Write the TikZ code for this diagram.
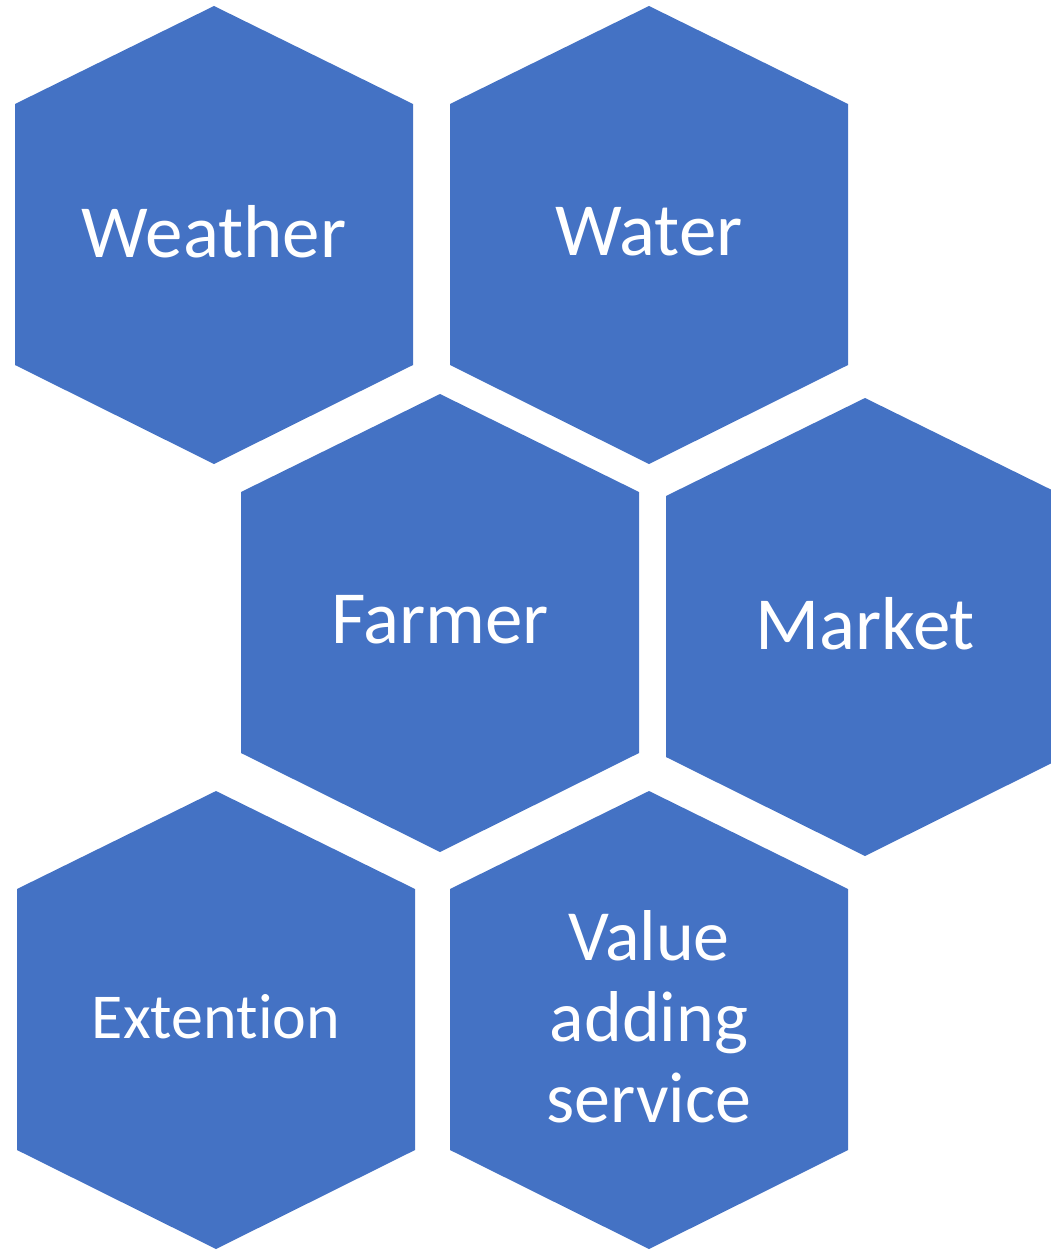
\documentclass[tikz,border=0pt]{standalone}
\usepackage{fontspec}
\setmainfont{Carlito}[Ligatures=NoCommon]
\definecolor{hexblue}{HTML}{4472C4}
\tikzset{
  hexcell/.style={fill=hexblue, draw=none},
  hexlabel/.style={text=white, align=center, inner sep=0pt,
    font=\fontsize{#1}{40.5}\selectfont},
  hexlabel/.default=37.5
}
\begin{document}
\begin{tikzpicture}[x=0.5pt,y=-0.5pt]
  \useasboundingbox (0,0) rectangle (1050,1252);
  \foreach \cx/\cy/\id/\sz/\txt in {
      214/235/weather/37.5/Weather,
      649/235/water/37.5/Water,
      440/623/farmer/37.5/Farmer,
      865/627/market/37.5/Market,
      216/1020/extention/32/Extention,
      649/1020/value/36/{Value\\adding\\service}} {
    \fill[hexcell] (\cx,\cy-229) -- (\cx+199,\cy-131) -- (\cx+199,\cy+130)
      -- (\cx,\cy+229) -- (\cx-199,\cy+130) -- (\cx-199,\cy-131) -- cycle;
    \node[hexlabel=\sz] (\id) at (\cx,\cy-3) {\txt};
  }
\end{tikzpicture}
\end{document}
